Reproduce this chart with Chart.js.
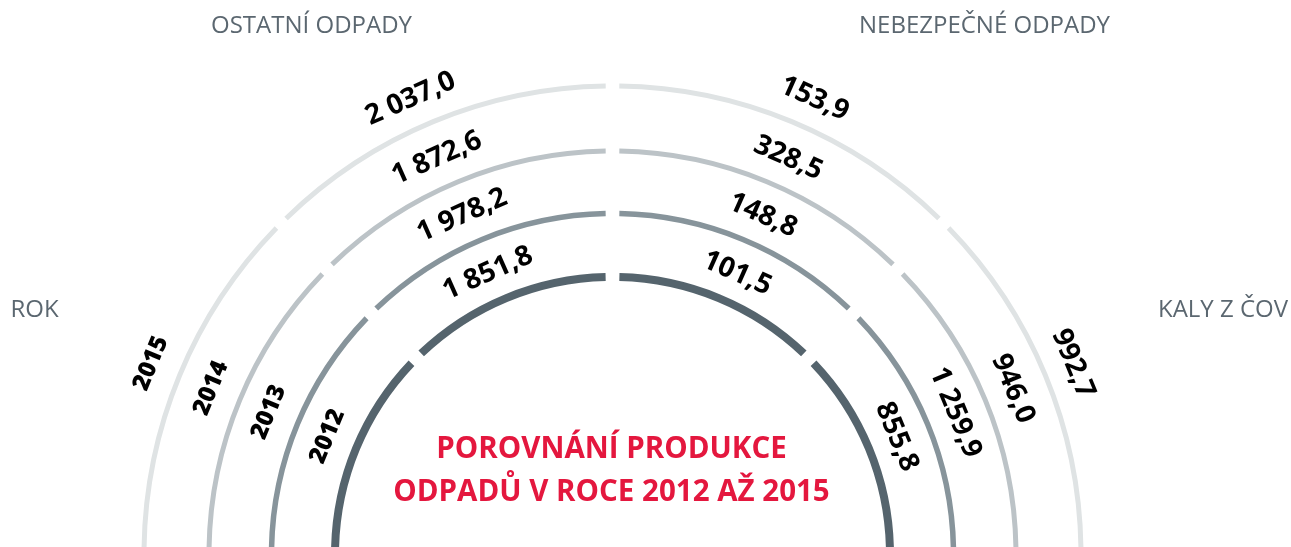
<!DOCTYPE html>
<html><head><meta charset="utf-8">
<script src="https://cdn.jsdelivr.net/npm/chart.js@4"></script>
<style>
html,body{margin:0;padding:0;background:#fff;overflow:hidden;width:1291px;height:547px;}
#wrap{position:relative;width:1291px;height:655px;}
canvas{display:block;}
</style></head><body><div id="wrap"><canvas id="c" width="1291" height="655"></canvas></div>
<script>
// ---- data ----
const years = ['2015', '2014', '2013', '2012'];
const categories = ['ROK', 'OSTATNÍ ODPADY', 'NEBEZPEČNÉ ODPADY', 'KALY Z ČOV'];
const ostatniOdpady = [2037.0, 1872.6, 1978.2, 1851.8];
const nebezpecneOdpady = [153.9, 328.5, 148.8, 101.5];
const kalyZCov = [992.7, 946.0, 1259.9, 855.8];
const segmentShares = [1, 1, 1, 1]; // each category gets an equal quarter of the half ring
const titleLines = ['POROVNÁNÍ PRODUKCE', 'ODPADŮ V ROCE 2012 AŽ 2015'];

// ---- styles ----
const ringColors = ['#dfe3e4', '#bcc3c7', '#87949b', '#55646d'];
const ringWidths = [5, 5, 5.5, 8];
const spacerWidths = [60, 57.25, 56.75];
const SPACING = 34;            // chart.js spacing -> ~13.5px gaps
const SHIFT = SPACING / 2;     // arcs are drawn pushed outward by spacing/2
const RADIUS = 454;
const INNER = 256.5;

function fmt(v) {
  const parts = v.toFixed(1).split('.');
  const int = parts[0].replace(/\B(?=(\d{3})+(?!\d))/g, ' ');
  return int + ',' + parts[1];
}
const valueSeries = [null, ostatniOdpady, nebezpecneOdpady, kalyZCov];

const datasets = [];
const ringIdx = [];
years.forEach((y, i) => {
  ringIdx.push(datasets.length);
  datasets.push({
    label: y,
    data: segmentShares.slice(),
    backgroundColor: ringColors[i],
    borderWidth: 0,
    weight: ringWidths[i],
    spacing: SPACING
  });
  if (i < spacerWidths.length) {
    datasets.push({
      label: 'spacer' + i,
      data: [1],
      backgroundColor: 'rgba(0,0,0,0)',
      borderWidth: 0,
      weight: spacerWidths[i],
      spacing: 0
    });
  }
});

const labelPlugin = {
  id: 'arcLabels',
  afterDraw(chart) {
    const ctx = chart.ctx;
    ctx.save();
    ringIdx.forEach((dsIdx, i) => {
      const meta = chart.getDatasetMeta(dsIdx);
      meta.data.forEach((arc, j) => {
        const p = arc.getProps(['x', 'y', 'startAngle', 'endAngle', 'innerRadius', 'outerRadius'], true);
        let a = (p.startAngle + p.endAngle) / 2;
        if (j === 1) a -= 1.4 * Math.PI / 180;
        if (j === 2) a += 1.4 * Math.PI / 180;
        const r = (p.innerRadius + p.outerRadius) / 2 + SHIFT + (j === 0 ? 31 : 30);
        const tx = p.x + r * Math.cos(a);
        const ty = p.y + r * Math.sin(a);
        ctx.save();
        ctx.translate(tx, ty);
        ctx.rotate(a + Math.PI / 2);
        ctx.textAlign = 'center';
        ctx.textBaseline = 'middle';
        ctx.fillStyle = '#000';
        if (j === 0) {
          ctx.font = '800 24px "Open Sans"';
          ctx.fillText(years[i], 0, 0);
        } else {
          ctx.font = '700 28px "Open Sans"';
          ctx.fillText(fmt(valueSeries[j][i]), 0, 0);
        }
        ctx.restore();
      });
    });
    // category headers
    ctx.fillStyle = '#5b6770';
    ctx.font = '400 24px "Open Sans"';
    ctx.textAlign = 'center';
    ctx.textBaseline = 'middle';
    ctx.fillText(categories[1], 311.5, 26);
    ctx.fillText(categories[2], 984.5, 26);
    ctx.fillText(categories[0], 34.5, 310);
    ctx.fillText(categories[3], 1223, 310);
    // title
    ctx.fillStyle = '#e4173e';
    ctx.font = '700 29.5px "Open Sans"';
    ctx.fillText(titleLines[0], 611.5, 449.5);
    ctx.fillText(titleLines[1], 611.5, 493);
    ctx.restore();
  }
};

new Chart(document.getElementById('c'), {
  type: 'doughnut',
  data: { labels: categories, datasets },
  options: {
    responsive: false,
    animation: false,
    devicePixelRatio: 1,
    rotation: -90,
    circumference: 180,
    radius: RADIUS,
    cutout: (INNER / RADIUS * 100) + '%',
    layout: { padding: { left: 0, right: 66, top: 0, bottom: 0 } },
    events: [],
    plugins: { legend: { display: false }, tooltip: { enabled: false } }
  },
  plugins: [labelPlugin]
});
</script>
</body></html>
